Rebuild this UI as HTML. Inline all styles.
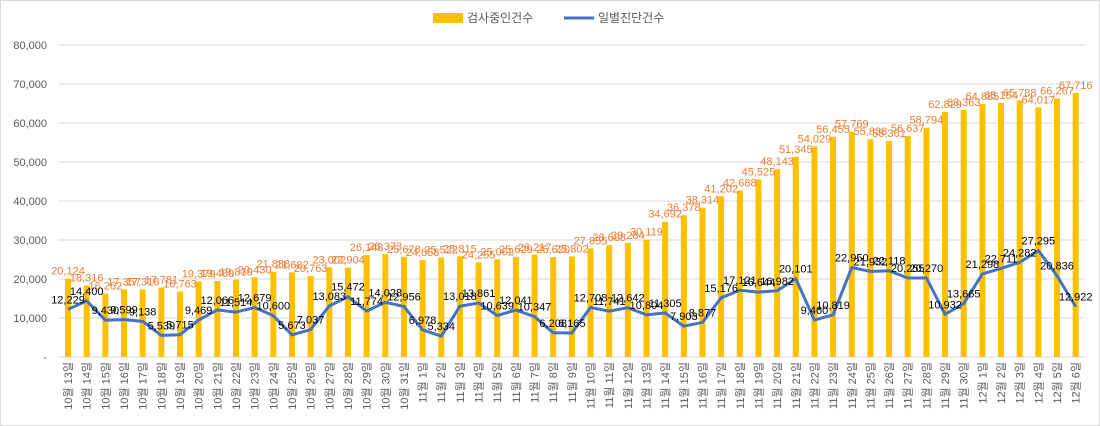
<!DOCTYPE html>
<html><head><meta charset="utf-8"><style>
body{margin:0;background:#fff;}
svg{display:block;font-family:"Liberation Sans","Noto Sans CJK KR",sans-serif;}
</style></head><body>
<svg id="c" width="1100" height="426">
<rect x="0.5" y="0.5" width="1099" height="425" fill="#fff" stroke="#d9d9d9"/>
<g>
<rect x="433" y="13" width="30" height="10" fill="#ffc000"/>
<text x="467" y="22" font-size="12" fill="#595959">검사중인건수</text>
<line x1="564" y1="18" x2="594" y2="18" stroke="#4472c4" stroke-width="3"/>
<text x="598" y="22" font-size="12" fill="#595959">일별진단건수</text>
</g>
<g id="grid"></g><g id="bars"></g><g id="line"></g><g id="labels"></g><g id="xl"></g>
</svg>
<script>
const dates=[];
for(let d=13;d<=31;d++)dates.push("10월 "+d+"일");
for(let d=1;d<=30;d++)dates.push("11월 "+d+"일");
for(let d=1;d<=6;d++)dates.push("12월 "+d+"일");
const testing=[20124,18316,16262,17357,17316,17781,16763,19379,19489,19819,20430,21888,21682,20763,23002,22904,26148,26373,25678,
24858,25522,25815,24255,25062,25629,26217,25620,25802,27855,28688,29284,30119,34692,36378,38314,41202,42688,45525,48143,51345,54029,56455,57769,55838,55361,56637,58794,62829,63363,
64885,65154,65788,64017,66267,67716];
const daily=[12229,14400,9430,9599,9138,5539,5715,9469,12066,11514,12679,10600,5673,7037,13083,15472,11774,14028,12956,
6978,5334,13018,13861,10639,12041,10347,6208,6165,12708,11741,12642,10804,11305,7903,8877,15176,17121,16644,16982,20101,9460,10819,22950,21932,22118,20255,20270,10932,13665,
21298,22711,24282,27295,20836,12922];
const yTicks=[0,10000,20000,30000,40000,50000,60000,70000,80000];
const NS="http://www.w3.org/2000/svg";
const L=58.7,R=1085,T=45,B=357,ymax=80000;
const bw=(R-L)/dates.length;
const X=i=>L+bw*(i+0.5);
const Y=v=>B-(B-T)*v/ymax;
function mk(p,t,a){const e=document.createElementNS(NS,t);for(const k in a)e.setAttribute(k,a[k]);p.appendChild(e);return e;}
const fmt=v=>v.toLocaleString("en-US");
const g=document.getElementById("grid");
yTicks.forEach(v=>{
const ln=mk(g,"line",{x1:L,x2:R,y1:Y(v),y2:Y(v),stroke:"#d9d9d9","stroke-width":1});


const t=mk(g,"text",{x:47,y:Y(v)+4,"font-size":11,fill:"#595959","text-anchor":"end"});
t.textContent=v===0?"-":fmt(v);


});
const bg=document.getElementById("bars"),lb=document.getElementById("labels"),xl=document.getElementById("xl");
testing.forEach((v,i)=>{
const r=mk(bg,"rect",{x:X(i)-3,y:Y(v),width:6,height:B-Y(v),fill:"#ffc000"});


const t=mk(lb,"text",{x:X(i),y:Y(v)-4,"font-size":11,fill:"#ed7d31","text-anchor":"middle"});
t.textContent=fmt(v);


const d=mk(xl,"text",{transform:`translate(${X(i)+4},${362}) rotate(-90)`,"font-size":11,fill:"#595959","text-anchor":"end"});
d.textContent=dates[i];


});
const pl=mk(document.getElementById("line"),"polyline",{points:daily.map((v,i)=>X(i)+","+Y(v)).join(" "),fill:"none",stroke:"#4472c4","stroke-width":3,"stroke-linejoin":"round"});


daily.forEach((v,i)=>{
const t=mk(lb,"text",{x:X(i),y:Y(v)-6,"font-size":11,fill:"#000","text-anchor":"middle"});
t.textContent=fmt(v);


});
</script>
</body></html>
